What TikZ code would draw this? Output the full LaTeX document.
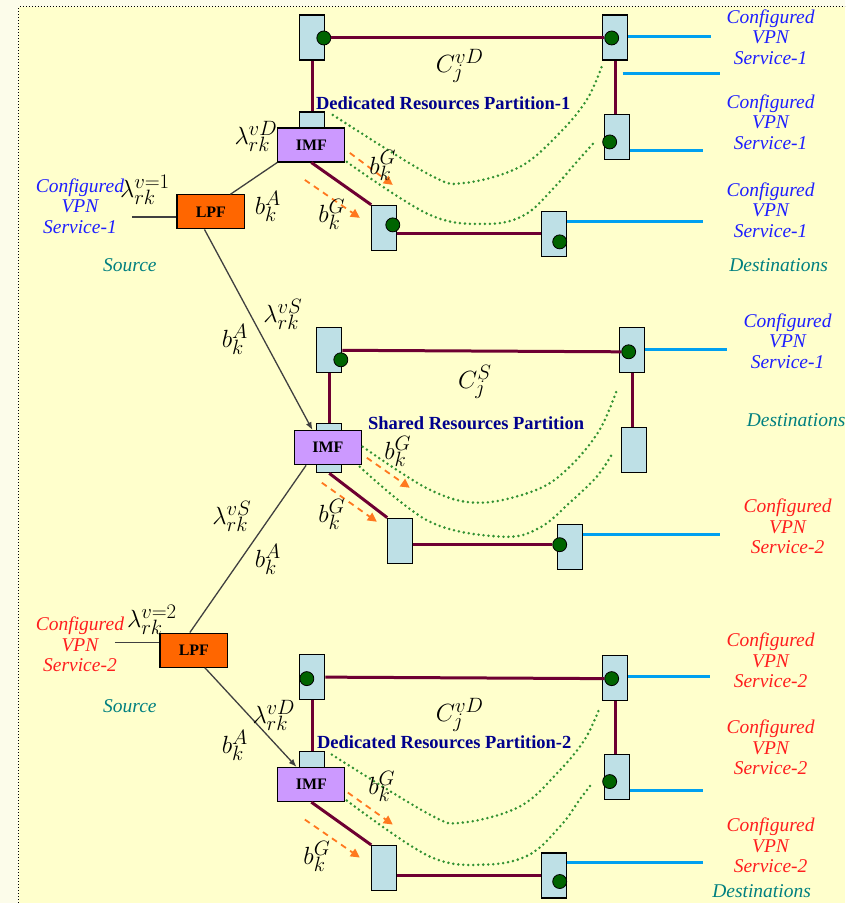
\documentclass[tikz,border=0pt]{standalone}
\usepackage{fontspec}
\setmainfont{Liberation Serif}
\usetikzlibrary{arrows.meta,positioning}
\definecolor{paper}{RGB}{255,255,204}
\definecolor{paperout}{RGB}{252,252,234}
\definecolor{portblue}{RGB}{190,224,230}
\definecolor{imfpurple}{RGB}{204,153,255}
\definecolor{lpforange}{RGB}{255,102,0}
\definecolor{trunkred}{RGB}{110,0,50}
\definecolor{feedblue}{RGB}{0,160,240}
\definecolor{dotgreen}{RGB}{0,100,0}
\definecolor{curvegreen}{RGB}{50,145,50}
\definecolor{flowarrow}{RGB}{255,120,30}
\definecolor{vpnone}{RGB}{30,30,255}
\definecolor{vpntwo}{RGB}{255,30,30}
\definecolor{tealnote}{RGB}{0,128,128}
\definecolor{navytitle}{RGB}{0,0,140}

\begin{document}
\begin{tikzpicture}[x=1pt,y=-1pt,
    port/.style={draw, line width=1.2pt, fill=portblue, minimum width=25pt, minimum height=45pt, inner sep=0pt},
    imf/.style={draw, line width=1.2pt, fill=imfpurple, minimum width=67pt, minimum height=34pt, inner sep=0pt, font=\fontsize{16}{18}\selectfont\bfseries},
    lpf/.style={draw, line width=1.2pt, fill=lpforange, minimum width=68pt, minimum height=34pt, inner sep=0pt, font=\fontsize{16}{18}\selectfont\bfseries},
    tap/.style={circle, draw, line width=0.8pt, fill=dotgreen, minimum size=14pt, inner sep=0pt},
    trunk/.style={trunkred, line width=3pt},
    feed/.style={feedblue, line width=3pt},
    feeder/.style={black!75, line width=1.3pt},
    share/.style={curvegreen, line width=2.8pt, dash pattern=on 0pt off 5pt, line cap=round},
    flow/.style={flowarrow, line width=1.8pt, dash pattern=on 6pt off 5pt, -{Triangle[length=9pt,width=9pt]}},
    lab/.style={font=\fontsize{24.88}{28}\selectfont, inner sep=0pt},
    vpna/.style={text=vpnone, font=\fontsize{19.5}{20.5}\selectfont\itshape, align=center, inner sep=0pt},
    vpnb/.style={text=vpntwo, font=\fontsize{19.5}{20.5}\selectfont\itshape, align=center, inner sep=0pt},
    note/.style={text=tealnote, font=\fontsize{19.5}{20}\selectfont\itshape, inner sep=0pt},
    title/.style={text=navytitle, font=\fontsize{18.5}{20}\selectfont\bfseries, anchor=west, inner sep=0pt}]

  % background and frame
  \fill[paperout] (0,0) rectangle (845,903);
  \fill[paper] (19,7) rectangle (845,903);
  \draw[dotted, line width=1pt] (19,903) -- (19,7) -- (845,7);
  \useasboundingbox (0,0) rectangle (845,903);

  % ---------- Dedicated Resources Partition-1
  \node[port] (p1a) at (312.5,37.5) {};
  \node[port] (p1b) at (615.5,37.5) {};
  \node[port] (p1c) at (617.5,137) {};
  \node[port] (p1d) at (384.5,228) {};
  \node[port] (p1e) at (554,234) {};
  \node[port, minimum height=18pt] (s1) at (312.5,121) {};
  \node[imf] (imf1) at (311.5,145) {IMF};
  \node[lpf] (lpf1) at (211,212) {LPF};
  \node[tap] (t1a) at (324,38) {};
  \node[tap] (t1b) at (612,38) {};
  \node[tap] (t1c) at (610,142) {};
  \node[tap] (t1d) at (393,225) {};
  \node[tap] (t1e) at (560,242) {};
  \coordinate (i1) at (132,217);
  \coordinate (o1a) at (711,37);
  \coordinate (o1w) at (623,74);
  \coordinate (o1x) at (720,74);
  \coordinate (o1c) at (703,151);
  \coordinate (o1e) at (703,222);

  \draw[trunk] (t1a.east) -- (t1b.west);
  \draw[trunk] (p1a.south) -- (s1.north);
  \draw[trunk] (p1b.south) -- (p1b.south |- p1c.north);
  \draw[trunk] (imf1.south) -- (p1d.north west);
  \draw[trunk] (p1d.east |- p1e.west) -- (p1e.west);
  \draw[feed] (o1a -| p1b.east) -- (o1a);
  \draw[feed] (o1w) -- (o1x);
  \draw[feed] (o1c -| p1c.east) -- (o1c);
  \draw[feed] (o1e -| p1e.east) -- (o1e);
  \draw[feeder] (i1) -- (i1 -| lpf1.west);
  \draw[feeder] (lpf1.42) -- (imf1.south west);

  \draw[share] plot[smooth, tension=0.6] coordinates {(333,115) (430,175) (465,183) (520,167) (560,133) (587,100) (602,67)};
  \draw[share] plot[smooth, tension=0.6] coordinates {(347,162) (430,215) (487,224) (525,215) (555,187) (577,162) (595,142)};
  \draw[flow] (350,153) -- (393,185);
  \draw[flow] (305,180) -- (360,218);

  \node[title] (tt1) at (316,103) {Dedicated Resources Partition-1};
  \node[lab] (cj1) at (460,66) {$C_j^{vD}$};
  \node[lab] (bg1) at (383,166) {$b_k^G$};
  \node[lab] (bg2) at (332,215) {$b_k^G$};
  \node[lab] (ba1) at (268,207) {$b_k^A$};
  \node[lab] (ld1) at (256,136) {$\lambda_{rk}^{vD}$};
  \node[lab] (lv1) at (145,190) {$\lambda_{rk}^{v=1}$};
  \node[vpna] (src1) at (80,206) {Configured\\VPN\\Service-1};
  \node[note] (so1) at (130,265) {Source};
  \node[vpna] (r1a) at (771,37) {Configured\\VPN\\Service-1};
  \node[vpna] (r1b) at (771,122) {Configured\\VPN\\Service-1};
  \node[vpna] (r1c) at (771,210) {Configured\\VPN\\Service-1};
  \node[note] (de1) at (779,265) {Destinations};

  % ---------- Shared Resources Partition
  \node[port] (p2a) at (329.5,350.5) {};
  \node[port] (p2b) at (632.5,350.5) {};
  \node[port] (p2c) at (634.5,450) {};
  \node[port] (p2d) at (400.5,541) {};
  \node[port] (p2e) at (570.5,547.5) {};
  \node[port, minimum height=16pt] (s2) at (329.5,432) {};
  \node[port, minimum height=17pt] (s2b) at (329.5,464.5) {};
  \node[imf] (imf2) at (328,448) {IMF};
  \node[tap] (t2a) at (341,360) {};
  \node[tap] (t2b) at (629,352) {};
  \node[tap] (t2e) at (560,545) {};
  \coordinate (o2b) at (727,350);
  \coordinate (o2e) at (720,535);

  \draw[trunk] (p2a.east) -- (t2b.west);
  \draw[trunk] (p2a.south) -- (s2.north);
  \draw[trunk] (p2b.south) -- (p2b.south |- p2c.north);
  \draw[trunk] (s2b.south) -- (p2d.north west);
  \draw[trunk] (p2d.east |- t2e.west) -- (t2e.west);
  \draw[feed] (o2b -| p2b.east) -- (o2b);
  \draw[feed] (o2e -| p2e.east) -- (o2e);
  \draw[feeder, -{Latex[length=8pt,width=6pt]}] (lpf1.250) -- (imf2.131);

  \draw[share] plot[smooth, tension=0.6] coordinates {(363,447) (430,490) (480,503) (537,490) (570,467) (600,430) (618,388)};
  \draw[share] plot[smooth, tension=0.6] coordinates {(360,467) (430,522) (503,537) (540,528) (570,503) (597,477) (612,455)};
  \draw[flow] (367,458) -- (410,488);
  \draw[flow] (322,483) -- (377,522);

  \node[title] (tt2) at (368,423) {Shared Resources Partition};
  \node[lab] (cj2) at (475,382) {$C_j^{S}$};
  \node[lab] (bg3) at (398,452) {$b_k^G$};
  \node[lab] (bg4) at (332,515) {$b_k^G$};
  \node[lab] (ls1) at (283,315) {$\lambda_{rk}^{vS}$};
  \node[lab] (ba2) at (235,340) {$b_k^A$};
  \node[lab] (ls2) at (232,517) {$\lambda_{rk}^{vS}$};
  \node[lab] (ba3) at (268,560) {$b_k^A$};
  \node[vpna] (r2a) at (788,341) {Configured\\VPN\\Service-1};
  \node[note, anchor=west] (de2) at (747,420) {Destinations};
  \node[vpnb] (r2b) at (788,527) {Configured\\VPN\\Service-2};

  % ---------- Dedicated Resources Partition-2
  \node[port] (p3a) at (312.5,677.5) {};
  \node[port] (p3b) at (615.5,678.5) {};
  \node[port] (p3c) at (617.5,777.5) {};
  \node[port] (p3d) at (384.5,868.5) {};
  \node[port] (p3e) at (554.5,876) {};
  \node[port, minimum height=20pt] (s3) at (312.5,762) {};
  \node[imf] (imf3) at (311.5,785) {IMF};
  \node[lpf] (lpf2) at (194,650.5) {LPF};
  \node[tap] (t3a) at (307,679) {};
  \node[tap] (t3b) at (612,679) {};
  \node[tap] (t3c) at (610,782) {};
  \node[tap] (t3e) at (560,882) {};
  \coordinate (i2) at (115,643);
  \coordinate (o3b) at (710,677);
  \coordinate (o3c) at (703,791);
  \coordinate (o3e) at (703,863);

  \draw[trunk] (p3a.east) -- (t3b.west);
  \draw[trunk] (p3a.south) -- (s3.north);
  \draw[trunk] (p3b.south) -- (p3b.south |- p3c.north);
  \draw[trunk] (imf3.south) -- (p3d.north west);
  \draw[trunk] (p3d.east |- p3e.west) -- (p3e.west);
  \draw[feed] (o3b -| p3b.east) -- (o3b);
  \draw[feed] (o3c -| p3c.east) -- (o3c);
  \draw[feed] (o3e -| p3e.east) -- (o3e);
  \draw[feeder] (i2) -- (i2 -| lpf2.west);
  \draw[feeder] (imf2.219) -- (lpf2.103);
  \draw[feeder, -{Latex[length=8pt,width=6pt]}] (lpf2.302) -- (imf3.130);

  \draw[share] plot[smooth, tension=0.6] coordinates {(332,755) (430,815) (463,823) (520,807) (558,773) (585,740) (600,708)};
  \draw[share] plot[smooth, tension=0.6] coordinates {(347,801) (430,857) (487,865) (530,855) (562,825) (580,800) (593,783)};
  \draw[flow] (348,793) -- (393,825);
  \draw[flow] (305,820) -- (360,858);

  \node[title] (tt3) at (317,743) {Dedicated Resources Partition-2};
  \node[lab] (cj3) at (460,715) {$C_j^{vD}$};
  \node[lab] (bg5) at (382,787) {$b_k^G$};
  \node[lab] (bg6) at (317,857) {$b_k^G$};
  \node[lab] (ld2) at (274,716) {$\lambda_{rk}^{vD}$};
  \node[lab] (ba4) at (235,746) {$b_k^A$};
  \node[lab] (lv2) at (152,620) {$\lambda_{rk}^{v=2}$};
  \node[vpnb] (src2) at (80,645) {Configured\\VPN\\Service-2};
  \node[note] (so2) at (130,707) {Source};
  \node[vpnb] (r3a) at (771,661) {Configured\\VPN\\Service-2};
  \node[vpnb] (r3b) at (771,748) {Configured\\VPN\\Service-2};
  \node[vpnb] (r3c) at (771,846) {Configured\\VPN\\Service-2};
  \node[note] (de3) at (762,892) {Destinations};
\end{tikzpicture}
\end{document}
